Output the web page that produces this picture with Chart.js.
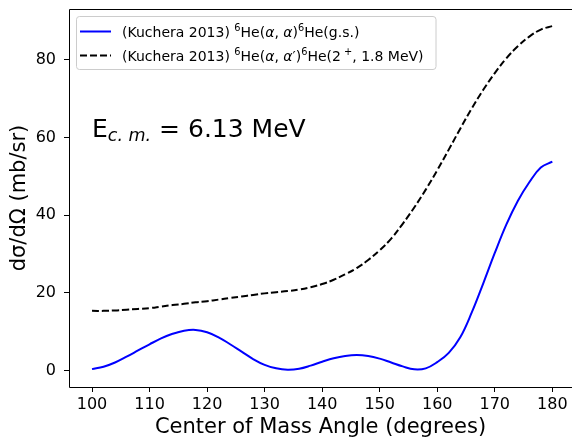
<!DOCTYPE html>
<html>
<head>
<meta charset="utf-8">
<script src="https://cdn.jsdelivr.net/npm/chart.js@4.4.0/dist/chart.umd.min.js"></script>
<style>
  html, body { margin: 0; padding: 0; overflow: hidden; background: #fff; }
  canvas { display: block; }
</style>
</head>
<body>
<canvas id="xsChart" width="572" height="439"></canvas>
<script>
// Center of mass angles (degrees)
const angles = [100, 102, 104, 106, 108, 110, 112, 114, 116, 118, 120, 122, 124, 126, 128, 130,
    132, 134, 136, 138, 140, 142, 144, 146, 148, 150, 152, 154, 156, 158, 160, 162, 164, 166,
    168, 170, 172, 174, 176, 178, 180];

// 6He(a,a)6He(g.s.)  (mb/sr)
const groundState = [0.4, 1.0, 2.1, 3.6, 5.2, 6.8, 8.3, 9.5, 10.3, 10.5, 9.9, 8.6, 6.8, 4.9, 3.0, 1.5,
    0.6, 0.25, 0.5, 1.3, 2.3, 3.2, 3.8, 4.05, 3.8, 3.1, 2.1, 1.1, 0.35, 0.6, 2.2, 4.6, 8.6, 15.0,
    22.5, 30.3, 37.6, 43.7, 48.5, 52.3, 53.8];

// 6He(a,a')6He(2+, 1.8 MeV)  (mb/sr)
const excited = [15.4, 15.4, 15.5, 15.7, 15.9, 16.1, 16.5, 16.9, 17.2, 17.6, 17.9, 18.3, 18.7, 19.1, 19.5, 19.9,
    20.2, 20.5, 20.9, 21.5, 22.3, 23.4, 24.8, 26.4, 28.5, 31.0, 34.0, 37.8, 42.0, 46.6, 51.6, 56.9,
    62.3, 67.5, 72.3, 76.6, 80.4, 83.5, 86.0, 87.8, 88.7];

const xTicks = [100, 110, 120, 130, 140, 150, 160, 170, 180];
const yTicks = [0, 20, 40, 60, 80];

const FONT = '"DejaVu Sans", sans-serif';

// draw text made of pieces (superscript / subscript / italic)
function drawRich(ctx, x, y, parts, size) {
    ctx.textBaseline = 'alphabetic';
    ctx.textAlign = 'left';
    for (const p of parts) {
        const s = (p.sup || p.sub) ? size * 0.7 : size;
        ctx.font = (p.it ? 'italic ' : '') + s + 'px ' + FONT;
        let dy = 0;
        if (p.sup) dy = -size * 0.38;
        if (p.sub) dy = size * 0.16;
        ctx.fillText(p.t, x, y + dy);
        x += ctx.measureText(p.t).width;
    }
    return x;
}

const legendItems = [
    {
        color: '#0000ff', dash: [],
        parts: [{t: '(Kuchera 2013) '}, {t: '6', sup: true}, {t: 'He('}, {t: 'α', it: true}, {t: ', '},
            {t: 'α', it: true}, {t: ')'}, {t: '6', sup: true}, {t: 'He(g.s.)'}]
    },
    {
        color: '#000000', dash: [7, 3],
        parts: [{t: '(Kuchera 2013) '}, {t: '6', sup: true}, {t: 'He('}, {t: 'α', it: true}, {t: ', '},
            {t: 'α', it: true}, {t: '′'}, {t: ')'}, {t: '6', sup: true}, {t: 'He(2'}, {t: ' +', sup: true},
            {t: ', 1.8 MeV)'}]
    }
];

const extras = {
    id: 'extras',
    afterDatasetsDraw(chart) {
        const ctx = chart.ctx;
        const area = chart.chartArea;
        ctx.save();

        // energy label
        ctx.fillStyle = '#000';
        drawRich(ctx, 92, 137, [{t: 'E'}, {t: 'c. m.', sub: true, it: true}, {t: ' = 6.13 MeV'}], 25);

        // legend box
        const bx = 76.5, by = 16.5, bw = 359.5, bh = 53, r = 3;
        ctx.beginPath();
        ctx.moveTo(bx + r, by);
        ctx.arcTo(bx + bw, by, bx + bw, by + bh, r);
        ctx.arcTo(bx + bw, by + bh, bx, by + bh, r);
        ctx.arcTo(bx, by + bh, bx, by, r);
        ctx.arcTo(bx, by, bx + bw, by, r);
        ctx.closePath();
        ctx.fillStyle = 'rgba(255,255,255,0.8)';
        ctx.fill();
        ctx.strokeStyle = '#cccccc';
        ctx.lineWidth = 1;
        ctx.stroke();

        legendItems.forEach((item, i) => {
            const ly = 31.5 + i * 24;
            ctx.beginPath();
            ctx.setLineDash(item.dash);
            ctx.strokeStyle = item.color;
            ctx.lineWidth = 2;
            ctx.moveTo(80, ly);
            ctx.lineTo(111, ly);
            ctx.stroke();
            ctx.setLineDash([]);
            ctx.fillStyle = '#000';
            drawRich(ctx, 122, ly + 5, item.parts, 14);
        });

        // axes frame (right spine falls outside the picture)
        const l = Math.round(area.left) + 0.5, t = Math.round(area.top) + 0.5, b = Math.round(area.bottom) + 0.5;
        ctx.strokeStyle = '#000';
        ctx.lineWidth = 1;
        ctx.beginPath();
        ctx.moveTo(chart.width, t);
        ctx.lineTo(l, t);
        ctx.lineTo(l, b);
        ctx.lineTo(chart.width, b);
        ctx.stroke();
        ctx.restore();
    }
};

const ctx = document.getElementById('xsChart').getContext('2d');
new Chart(ctx, {
    type: 'line',
    data: {
        datasets: [
            {
                label: '(Kuchera 2013) 6He(α, α)6He(g.s.)',
                data: angles.map((a, i) => ({x: a, y: groundState[i]})),
                borderColor: '#0000ff',
                borderWidth: 2,
                pointRadius: 0,
                tension: 0.4,
                fill: false
            },
            {
                label: '(Kuchera 2013) 6He(α, α′)6He(2+, 1.8 MeV)',
                data: angles.map((a, i) => ({x: a, y: excited[i]})),
                borderColor: '#000000',
                borderWidth: 2,
                borderDash: [7, 3],
                pointRadius: 0,
                tension: 0.4,
                fill: false
            }
        ]
    },
    options: {
        responsive: false,
        animation: false,
        layout: {padding: {top: 9, right: 0, left: 0, bottom: 0}},
        plugins: {
            legend: {display: false},
            tooltip: {enabled: false}
        },
        scales: {
            x: {
                type: 'linear',
                min: 96,
                max: 183.42,
                afterFit: (scale) => {
                    scale.height = 52;
                    scale.paddingLeft = 0;
                    scale.paddingRight = 0;
                },
                afterBuildTicks: (scale) => { scale.ticks = xTicks.map(v => ({value: v})); },
                ticks: {
                    color: '#000',
                    padding: 3,
                    font: {family: FONT, size: 16},
                    maxRotation: 0
                },
                grid: {display: true, drawOnChartArea: false, drawTicks: true, tickLength: 5, color: '#000'},
                border: {display: false},
                title: {
                    display: true,
                    text: 'Center of Mass Angle (degrees)',
                    color: '#000',
                    font: {family: FONT, size: 21, lineHeight: 1.07},
                    padding: {top: 0, bottom: 0}
                }
            },
            y: {
                min: -4.2,
                max: 93.1,
                afterFit: (scale) => {
                    scale.width = 69;
                    scale.paddingTop = 0;
                    scale.paddingBottom = 0;
                },
                afterBuildTicks: (scale) => { scale.ticks = yTicks.map(v => ({value: v})); },
                ticks: {
                    color: '#000',
                    padding: 8,
                    font: {family: FONT, size: 16}
                },
                grid: {display: true, drawOnChartArea: false, drawTicks: true, tickLength: 5, color: '#000'},
                border: {display: false},
                title: {
                    display: true,
                    text: 'dσ/dΩ (mb/sr)',
                    color: '#000',
                    font: {family: FONT, size: 21, lineHeight: 1.07},
                    padding: {top: 8, bottom: 0}
                }
            }
        }
    },
    plugins: [extras]
});
</script>
</body>
</html>
